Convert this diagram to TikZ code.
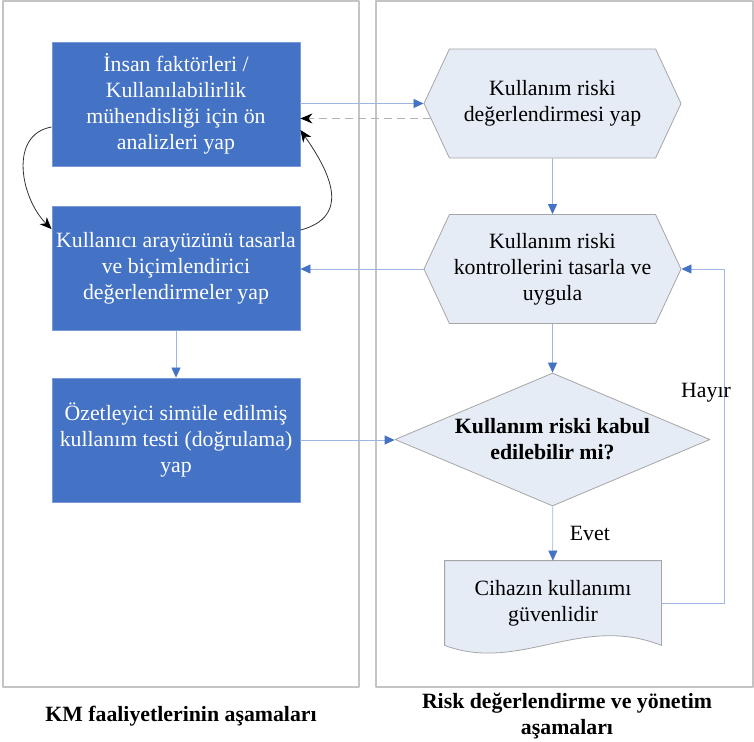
\documentclass[tikz,border=0pt]{standalone}
\usepackage{fontspec}
\setmainfont{Liberation Serif}
\usetikzlibrary{arrows.meta,shapes.geometric,shapes.symbols,backgrounds,positioning}
\definecolor{kutumavi}{HTML}{4472C4}
\definecolor{acikmavi}{HTML}{E6ECF6}
\definecolor{cizgimavi}{HTML}{9DB5E0}
\definecolor{cerceve}{HTML}{C4C4C4}
\begin{document}
\begin{tikzpicture}[x=0.5pt, y=-0.5pt, line join=round,
	font=\fontsize{10.9}{13}\selectfont,
	kutu/.style={rectangle, draw=cizgimavi!60!kutumavi, fill=kutumavi, text=white, minimum width=124pt, minimum height=62pt, align=center, inner sep=0pt},
	altigen/.style={signal, signal to=west and east, signal pointer angle=130, draw=gray!70, fill=acikmavi, minimum width=128.5pt, minimum height=54.5pt, align=center, inner sep=0pt},
	karar/.style={diamond, aspect=2.37, draw=gray!70, fill=acikmavi, minimum width=157.5pt, minimum height=66.5pt, align=center, inner sep=0pt, font=\fontsize{10.9}{13}\selectfont\bfseries},
	belge/.style={rectangle, minimum width=108pt, minimum height=42pt, align=center, inner sep=0pt},
	akis/.style={cizgimavi, -{Triangle[length=5pt, width=4.5pt, color=kutumavi]}},
	geri/.style={-{Stealth[length=6pt, width=5pt, color=black]}},
	panel/.style={draw=cerceve, line width=0.8pt},
	baslik/.style={align=center, font=\fontsize{10.9}{13}\selectfont\bfseries}]
	\useasboundingbox (0,0) rectangle (754,742);
	%Paneller
	\draw[panel] (3,1) rectangle (359,687);
	\draw[panel] (376,1) rectangle (753,687);
	%KM kutulari
	\node[kutu] (insan) at (176,104) {İnsan faktörleri /\\Kullanılabilirlik\\mühendisliği için ön\\analizleri yap};
	\node[kutu] (arayuz) at (176,268.5) {Kullanıcı arayüzünü tasarla\\ve biçimlendirici\\değerlendirmeler yap};
	\node[kutu] (ozet) at (176,440) {Özetleyici simüle edilmiş\\kullanım testi (doğrulama)\\yap};
	%Risk adimlari
	\node[altigen] (risk) at (552.5,103.5) {Kullanım riski\\değerlendirmesi yap};
	\node[altigen] (kontrol) at (552.5,269) {Kullanım riski\\kontrollerini tasarla ve\\uygula};
	\node[karar] (kabul) at (552.5,439.5) {Kullanım riski kabul\\edilebilir mi?};
	\node[belge] (cihaz) at (553,603) {Cihazın kullanımı\\güvenlidir};
	\begin{scope}[on background layer]
		\draw[draw=gray!70, fill=acikmavi] (cihaz.north west) -- (cihaz.north east) -- (cihaz.south east)
			.. controls +(-81,-32) and +(75,28) .. (cihaz.south west) -- cycle;
	\end{scope}
	%Oklar
	\draw[akis] (insan.east |- risk.west) -- (risk.west);
	\draw[geri, dashed, gray!60, dash pattern=on 4pt off 2.5pt] (risk.187) -- (risk.187 -| insan.east);
	\draw[geri, thin, black!80] ([yshift=-11.5pt]insan.west) to[out=190, in=135, looseness=1.1] ([yshift=-11.5pt]arayuz.north west);
	\draw[geri, thin, black!80] ([yshift=-12pt]arayuz.north east) to[out=15, in=-55, looseness=1.35] ([yshift=-13pt]insan.east);
	\draw[akis] (arayuz) -- (ozet);
	\draw[akis] (risk) -- (kontrol);
	\draw[akis] (kontrol.west) -- (kontrol.west -| arayuz.east);
	\draw[akis] (kontrol) -- (kabul);
	\draw[akis] (ozet.east) -- (ozet.east -| kabul.west);
	\draw[akis] (kabul) -- node[right=5pt, text=black] (evet) {Evet} (cihaz);
	\coordinate (donus) at (724,603);
	\draw[akis] (cihaz.east) -- (donus) -- (donus |- kontrol.east) node[pos=0.63, xshift=-9pt, text=black] (hayir) {Hayır} -- (kontrol.east);
	%Basliklar
	\node[baslik] (kmbaslik) at (181,716) {KM faaliyetlerinin aşamaları};
	\node[baslik] (riskbaslik) at (567,716) {Risk değerlendirme ve yönetim\\aşamaları};
\end{tikzpicture}
\end{document}
